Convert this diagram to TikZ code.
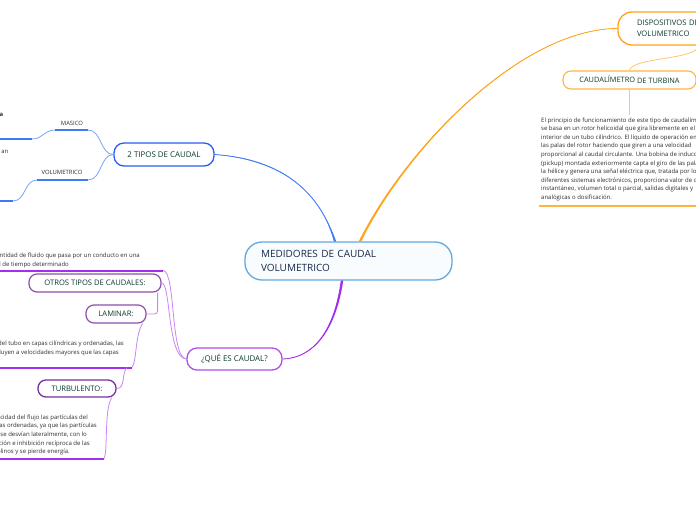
\documentclass[tikz,border=0pt]{standalone}
\usepackage{fontspec}
\setmainfont{Open Sans}
\definecolor{cblue}{HTML}{3D7AF5}
\definecolor{cblueB}{HTML}{2A5CF2}
\definecolor{cblueL}{HTML}{7BA3F7}
\definecolor{corange}{HTML}{FFA31A}
\definecolor{corangeL}{HTML}{FFC670}
\definecolor{corangeM}{HTML}{FFB440}
\definecolor{cpurple}{HTML}{A22EF0}
\definecolor{cpurpleN}{HTML}{B24CEB}
\definecolor{cpurpleL}{HTML}{CB85F5}
\definecolor{cpurpleM}{HTML}{8E4FAB}
\definecolor{cpurpleD}{HTML}{7A2E9C}
\definecolor{ctext}{HTML}{0B3A2A}
\definecolor{cnavy}{HTML}{182848}
\definecolor{cbody}{HTML}{2E2E2E}
\definecolor{ccentral}{HTML}{62A9DE}
\definecolor{cfill}{HTML}{F9FCFE}
\begin{document}
\begin{tikzpicture}[x=1pt,y=-1pt,
  box/.style={draw, fill=white, text=ctext, inner sep=0pt, align=center,
    font=\fontsize{7.6}{8}\selectfont},
  body/.style={text=cbody, inner sep=0pt, font=\fontsize{6}{8.6}\selectfont},
  small/.style={text=cbody, inner sep=0pt, font=\fontsize{5.9}{7}\selectfont},
  uline/.style={line width=2pt},
  thin/.style={line width=0.8pt}]
\useasboundingbox (0,0) rectangle (696,520);
\clip (0,0) rectangle (696,520);
\fill[white] (0,0) rectangle (696,520);

% ---------- nodes ----------
\node[draw=ccentral, line width=1.3pt, fill=cfill, rounded corners=17pt,
  minimum width=207pt, minimum height=38pt, text width=175pt, align=left,
  inner xsep=16pt, inner ysep=0pt, text=cnavy,
  font=\fontsize{10}{14}\selectfont] (central) at (348.5,261)
  {MEDIDORES DE CAUDAL\\VOLUMETRICO};

\node[box, draw=cblueB, line width=1.3pt, rounded corners=10pt,
  minimum width=100pt, minimum height=23pt,
  font=\fontsize{7.9}{8}\selectfont] (tipos) at (164,154.5) {2 TIPOS DE CAUDAL};

\node[box, draw=corange, line width=1.3pt, rounded corners=14pt,
  minimum width=160pt, minimum height=33pt, text width=122pt, align=left,
  inner xsep=19pt, font=\fontsize{7.6}{11.5}\selectfont] (disp) at (698,28.5)
  {DISPOSITIVOS DE CAUDAL\\VOLUMETRICO};

\node[box, draw=corangeM, line width=1.1pt, rounded corners=8pt,
  minimum width=133pt, minimum height=18pt,
  font=\fontsize{7.4}{8}\selectfont] (caud) at (629.5,80)
  {CAUDALÍMETRO \raisebox{-1pt}{DE TURBINA}};

\node[box, draw=cpurpleN, line width=1.3pt, rounded corners=10pt,
  minimum width=95pt, minimum height=22pt,
  font=\fontsize{7.9}{8}\selectfont] (que) at (234.5,359) {¿QUÉ ES CAUDAL?};

\node[box, draw=cpurpleM, line width=1.2pt, rounded corners=8pt,
  minimum width=132pt, minimum height=18pt] (otros) at (95,283)
  {OTROS TIPOS DE CAUDALES:};

\node[box, draw=cpurpleM, line width=1.2pt, rounded corners=8pt,
  minimum width=60pt, minimum height=18pt] (lam) at (116,314) {LAMINAR:};

\node[box, draw=cpurpleD, line width=1.3pt, rounded corners=8pt,
  minimum width=78pt, minimum height=17pt] (turb) at (77,388.5) {TURBULENTO:};

% ---------- coordinates ----------
\coordinate (m0) at (55,130);   \coordinate (m1) at (88,130);
\coordinate (mL) at (32,139);   \coordinate (mE) at (0,139);
\coordinate (v0) at (37,180);   \coordinate (v1) at (88,180);
\coordinate (vL) at (13,201);   \coordinate (vE) at (0,201);
\coordinate (cb) at (629.5,115);
\coordinate (r0) at (539,206);  \coordinate (r1) at (700,206);
\coordinate (d0) at (0,270.5);  \coordinate (d1) at (163,270.5);
\coordinate (l0) at (0,367.5);  \coordinate (l1) at (132,367.5);
\coordinate (t0) at (0,458.5);  \coordinate (t1) at (104,458.5);

% ---------- main connectors (tapered) ----------
\fill[cblue] ([xshift=-14.7pt]central.north) .. controls (323,200) and (291,161) .. (tipos.east)
  .. controls (291,159) and (321,200) .. ([xshift=-12.3pt]central.north) -- cycle;
\draw[cblue, line width=0.8pt] ([xshift=-13.5pt]central.north) .. controls (322,200) and (291,160) .. (tipos.east);

\fill[corange] ([xshift=10.3pt]central.north) .. controls (404,150) and (520,28.7) .. (disp.west)
  .. controls (520,29.3) and (406,150) .. ([xshift=12.7pt]central.north) -- cycle;
\draw[corange, line width=0.8pt] ([xshift=11.5pt]central.north) .. controls (405,150) and (520,29) .. (disp.west);

\fill[cpurple] ([xshift=-7.7pt]central.south) .. controls (334,330) and (314,357.5) .. (que.east)
  .. controls (314,358.5) and (336,330) .. ([xshift=-5.3pt]central.south) -- cycle;
\draw[cpurple, line width=0.8pt] ([xshift=-6.5pt]central.south) .. controls (335,330) and (314,358) .. (que.east);

% ---------- left top: types ----------
\draw[cblueL, thin] (tipos.west) .. controls (100,154.5) and (102,130) .. (m1);
\draw[cblueL, thin] (tipos.west) .. controls (100,154.5) and (102,180) .. (v1);
\draw[cblue, uline] (m0) -- (m1);
\draw[cblue, uline] (v0) -- (v1);
\draw[cblueL, thin] (m0) .. controls (44,130) and (43,139) .. (mL);
\draw[cblueL, thin] (v0) .. controls (24,180) and (26,201) .. (vL);
\draw[cblue, uline] (mE) -- (mL);
\draw[cblue, uline] (vE) -- (vL);
\node[small] (masico) at (72,123.5) {MASICO};
\node[small] (volum) at (62,172.5) {VOLUMETRICO};
\node[small, font=\bfseries\fontsize{5.9}{7}\selectfont, anchor=base east] (frag1) at (3.5,116) {a};
\node[small, anchor=base east] (frag2) at (8.5,153) {an};

% ---------- right: turbine ----------
\draw[corangeL, thin] (disp.south) .. controls (698,60) and (632,57) .. (caud.north);
\draw[corangeL, thin] (caud.south) -- (cb);
\node[body, anchor=north west, align=left] (turbtext) at (541,117.3)
  {El principio de funcionamiento de este tipo de caudalímetro\\
   se basa en un rotor helicoidal que gira libremente en el\\
   interior de un tubo cilíndrico. El líquido de operación empuja\\
   las palas del rotor haciendo que giren a una velocidad\\
   proporcional al caudal circulante. Una bobina de inducción\\
   (pickup) montada exteriormente capta el giro de las palas de\\
   la hélice y genera una señal eléctrica que, tratada por los\\
   diferentes sistemas electrónicos, proporciona valor de caudal\\
   instantáneo, volumen total o parcial, salidas digitales y\\
   analógicas o dosificación.};
\draw[corangeM, uline] (r0) -- (r1);

% ---------- left bottom: what is flow ----------
\draw[cpurpleL, thin] (d1) .. controls (176,271) and (170,358) .. (que.west);
\draw[cpurpleL, thin] (otros.east) .. controls (171,283) and (167,358) .. (que.west);
\draw[cpurple, uline] (d0) -- (d1);
\node[body, anchor=base east] (def1) at (140,257) {Es la cantidad de fluido que pasa por un conducto en una};
\node[body, anchor=base east] (def2) at (69,266) {unidad de tiempo determinado};

\draw[cpurpleL, thin, rounded corners=3pt] ([xshift=-4pt]otros.south east) |- (lam.east);
\draw[cpurpleL, thin] ([xshift=-4pt]lam.south east) .. controls (135,335) and (137,360) .. (l1);
\draw[cpurple, uline] (l0) -- (l1);
\node[body, anchor=base east] (lam1) at (124,345) {a lo largo del tubo en capas cilíndricas y ordenadas, las};
\node[body, anchor=base east] (lam2) at (119,354) {que fluyen a velocidades mayores que las capas};

\draw[cpurpleL, thin] ([xshift=-5pt]l1) .. controls (121,374) and (126,388.5) .. (turb.east);
\draw[cpurpleL, thin] ([xshift=-5pt]turb.south east) .. controls (104,410) and (108,452) .. (t1);
\draw[cpurple, uline] (t0) -- (t1);
\node[body, anchor=base east] (tu1) at (88,419) {a la velocidad del flujo las partículas del};
\node[body, anchor=base east] (tu2) at (97,427.7) {en capas ordenadas, ya que las partículas};
\node[body, anchor=base east] (tu3) at (87,436.4) {movimiento se desvían lateralmente, con lo};
\node[body, anchor=base east] (tu4) at (90,445.1) {ación e inhibición recíproca de las};
\node[body, anchor=base east] (tu5) at (70,453.8) {forman remolinos y se pierde energía.};
\end{tikzpicture}
\end{document}
